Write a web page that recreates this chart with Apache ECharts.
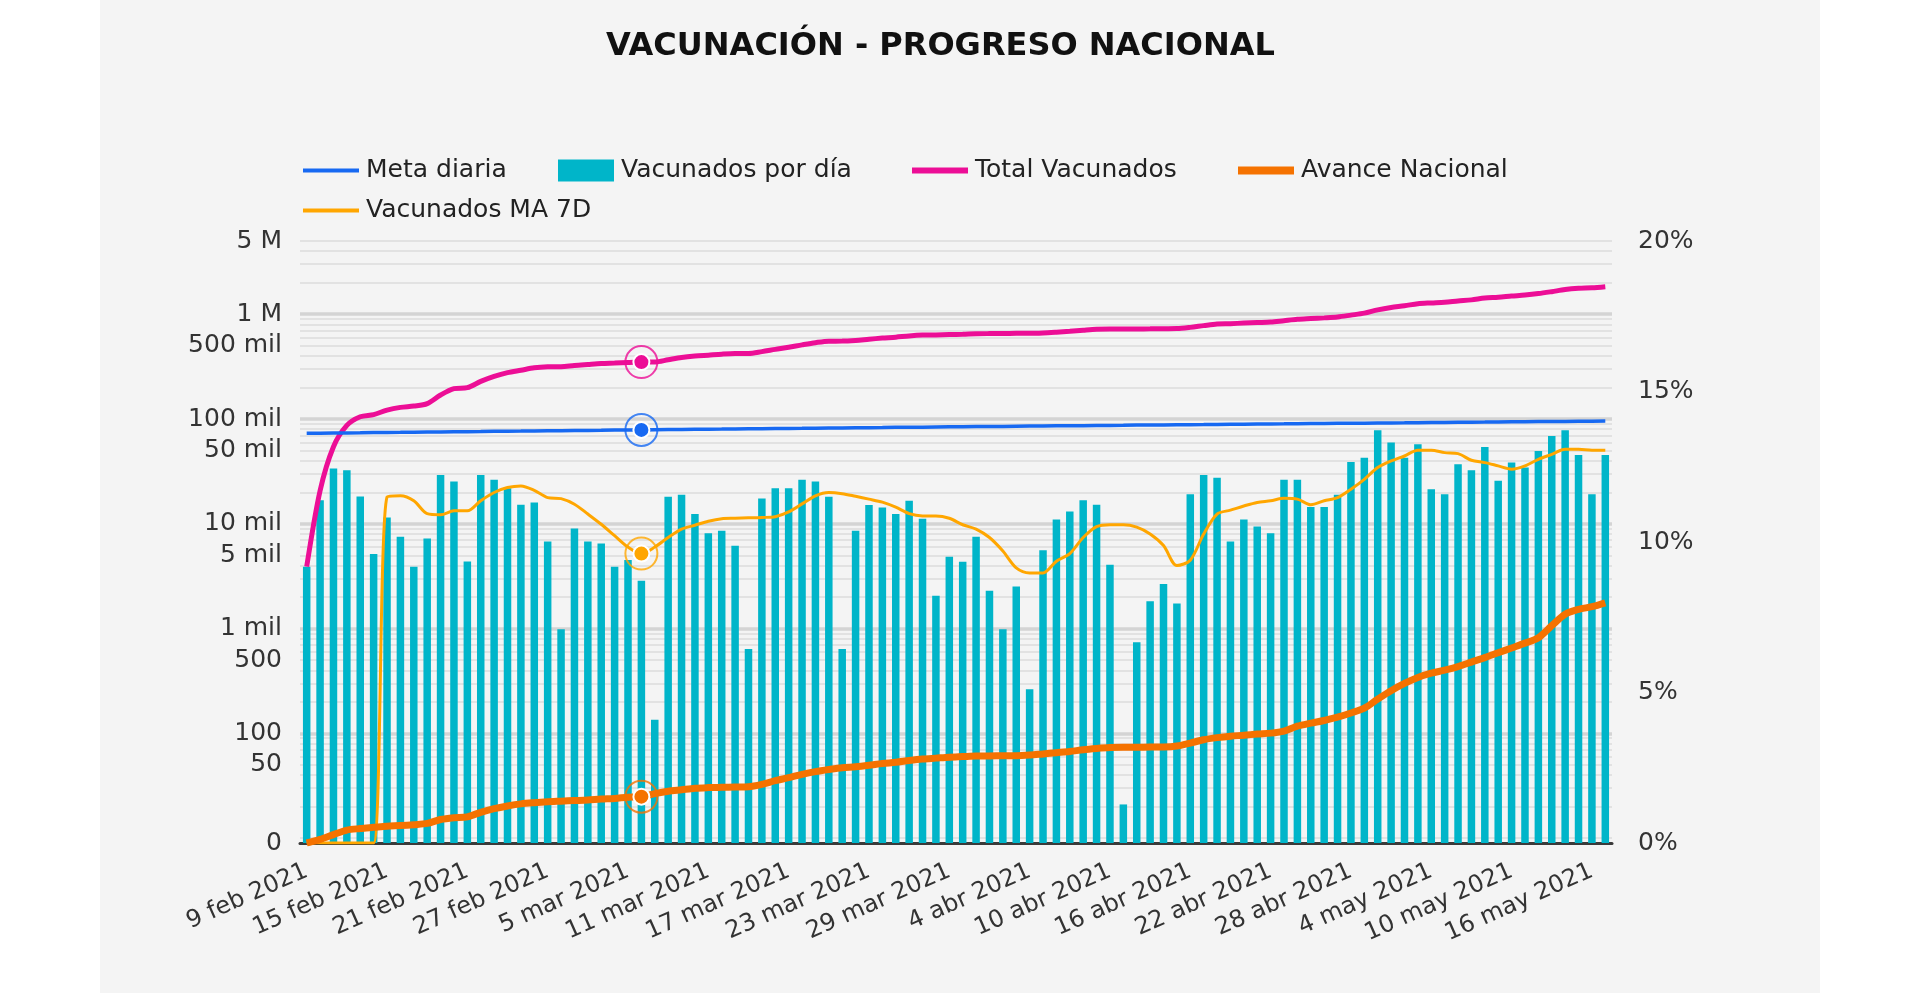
<!DOCTYPE html>
<html lang="es">
<head>
<meta charset="UTF-8">
<script src="https://cdn.jsdelivr.net/npm/echarts@6.0.0/dist/echarts.min.js"></script>
<title>Vacunación - progreso nacional</title>
<style>
  html, body { margin: 0; padding: 0; background: #ffffff; }
  #chart { position: absolute; left: 100px; top: 0; width: 1720px; height: 993px; background: #f4f4f4; }
</style>
</head>
<body>
<div id="chart"></div>
<script type="text/javascript">
// datos (9 feb 2021 -> 17 may 2021)
var vacunadosDia = [
  3890, 16800, 33700, 32500, 18200, 5140, 11500, 7510, 3890, 7250,
  29300, 25300, 4370, 29300, 26400, 21900, 15200, 16000, 6790, 985,
  9030, 6790, 6500, 3890, 4510, 2860, 135, 18100, 18900, 12400,
  8150, 8570, 6170, 640, 17400, 21900, 21900, 26400, 25300, 18100,
  640, 8570, 15100, 14300, 12400, 16600, 11200, 2060, 4850, 4350,
  7510, 2300, 985, 2530, 264, 5610, 11000, 13100, 16800, 15200,
  4070, 21, 741, 1820, 2660, 1740, 19200, 29300, 27600, 6790,
  11000, 9440, 8150, 26400, 26400, 14500, 14500, 18900, 38900, 42800,
  78000, 59600, 42800, 57400, 21400, 19200, 37000, 32400, 54100, 25700,
  38400, 34400, 49600, 68900, 78000, 45400, 19200, 45400
];
var totalVacunados = [
  3900, 20700, 54400, 86900, 105100, 110200, 121700, 129200, 133100, 140400,
  169700, 195000, 199400, 228700, 255100, 277000, 292200, 308200, 314900, 315900,
  325000, 331700, 338200, 342100, 346600, 349500, 349600, 367700, 386600, 399000,
  407200, 415800, 421900, 422600, 440000, 461900, 483800, 510200, 535500, 553600,
  554200, 562800, 577900, 592200, 604600, 621200, 632400, 634400, 639300, 643600,
  651200, 653500, 654400, 657000, 657200, 662800, 673800, 686900, 703700, 718900,
  723000, 723000, 723800, 725600, 728300, 730000, 749200, 778500, 806100, 812900,
  823900, 833300, 841500, 867900, 894300, 908800, 923300, 942200, 981100, 1023900,
  1101900, 1161500, 1204300, 1261700, 1283100, 1302300, 1339300, 1371700, 1425800, 1451500,
  1489900, 1524300, 1573900, 1642800, 1720800, 1766200, 1785400, 1830800
];
var vacunadosMA7 = [
  0, 0, 0, 0, 0, 0, 18100, 18500, 16600, 12500,
  12200, 13300, 13300, 16600, 19900, 22200, 23000, 20900, 17800, 17400,
  15400, 12400, 9900, 7700, 6000, 5200, 6000, 7400, 8900, 9700,
  10600, 11200, 11300, 11400, 11500, 11700, 13000, 15500, 18500, 19900,
  19400, 18300, 17200, 16100, 14400, 12500, 11900, 11900, 11300, 9800,
  8900, 7400, 5500, 3800, 3400, 3400, 4400, 5200, 7400, 9400,
  9800, 9800, 9300, 8000, 6200, 4000, 4500, 8000, 12400, 13500,
  14800, 16000, 16600, 17500, 17200, 15200, 16600, 17800, 21400, 26600,
  34400, 39800, 44400, 50400, 50400, 47800, 46800, 40400, 38400, 35700,
  33200, 35700, 41300, 46000, 51400, 51400, 50400, 50400
];
var metaDiaria = [
  73000, 73200, 73500, 73700, 73900, 74200, 74400, 74600, 74900, 75100,
  75300, 75600, 75800, 76000, 76300, 76500, 76700, 77000, 77200, 77400,
  77700, 77900, 78100, 78400, 78600, 78800, 79100, 79300, 79500, 79800,
  80000, 80200, 80500, 80700, 80900, 81200, 81400, 81600, 81900, 82100,
  82300, 82600, 82800, 83000, 83300, 83500, 83700, 84000, 84200, 84400,
  84700, 84900, 85100, 85400, 85600, 85800, 86100, 86300, 86500, 86800,
  87000, 87200, 87500, 87700, 87900, 88200, 88400, 88600, 88900, 89100,
  89300, 89600, 89800, 90000, 90300, 90500, 90700, 91000, 91200, 91400,
  91700, 91900, 92100, 92400, 92600, 92800, 93100, 93300, 93500, 93800,
  94000, 94200, 94500, 94700, 94900, 95200, 95400, 95600
];
// % de avance nacional (eje derecho)
var avanceNacional = [
  0.00, 0.12, 0.28, 0.43, 0.48, 0.52, 0.56, 0.58, 0.61, 0.65,
  0.78, 0.84, 0.87, 1.02, 1.14, 1.23, 1.30, 1.34, 1.37, 1.39,
  1.41, 1.43, 1.46, 1.48, 1.52, 1.54, 1.64, 1.72, 1.77, 1.82,
  1.84, 1.85, 1.86, 1.87, 1.95, 2.07, 2.17, 2.28, 2.37, 2.44,
  2.50, 2.53, 2.58, 2.64, 2.68, 2.74, 2.79, 2.82, 2.85, 2.87,
  2.89, 2.89, 2.90, 2.90, 2.92, 2.96, 3.00, 3.04, 3.10, 3.14,
  3.17, 3.18, 3.18, 3.19, 3.19, 3.22, 3.32, 3.43, 3.50, 3.55,
  3.58, 3.62, 3.65, 3.72, 3.88, 3.98, 4.07, 4.18, 4.32, 4.48,
  4.78, 5.06, 5.30, 5.50, 5.64, 5.74, 5.86, 6.01, 6.16, 6.32,
  6.48, 6.64, 6.82, 7.22, 7.60, 7.76, 7.85, 7.98
];

// etiquetas del eje izquierdo (log) y lineas de la grilla
var etiquetasIzq = [9, 50, 100, 500, 1000, 5000, 10000, 50000, 100000, 500000, 1000000, 5000000];
var decadas = [100, 1000, 10000, 100000, 1000000];
var grillaIzq = [];
[10, 100, 1000, 10000, 100000, 1000000].forEach(function (dec) {
  for (var k = 1; k < 10; k++) {
    if (dec * k <= 5000000) grillaIzq.push(dec * k);
  }
});

var meses = ['feb', 'mar', 'abr', 'may'];
var diasMes = [28, 31, 30, 31];
var dias = [];
var mi = 0, d = 9;
for (var k = 0; k < vacunadosDia.length; k++) {
  dias.push(d + ' ' + meses[mi] + ' 2021');
  d++;
  if (d > diasMes[mi]) { d = 1; mi++; }
}

var PISO = 9;      // el "0" del eje log
var MARCA = 25;    // punto resaltado
var fuente = 'DejaVu Sans';
var cMeta = '#1769f2', cBarra = '#00b5c9', cTotal = '#ec0e96', cAvance = '#f57200', cMA = '#ffa600';

function conMarca(arr, color, piso) {
  return arr.map(function (v, i) {
    var val = (piso && v <= 0) ? PISO : v;
    if (i !== MARCA) return val;
    return {
      value: val,
      symbol: 'circle',
      symbolSize: 16,
      itemStyle: { color: color, borderColor: '#ffffff', borderWidth: 2 }
    };
  });
}

function anillo(arr, color) {
  return {
    symbol: 'circle',
    symbolSize: 32,
    silent: true,
    label: { show: false },
    itemStyle: { color: 'rgba(0,0,0,0)', borderColor: color, borderWidth: 2, opacity: 0.8 },
    data: [{ coord: [dias[MARCA], arr[MARCA] > 0 ? arr[MARCA] : PISO] }]
  };
}

// una leyenda por serie; el texto queda centrado en top + 11
function leyenda(nombre, color, left, centro, alto) {
  return {
    data: [{ name: nombre, icon: 'rect', itemStyle: { color: color } }],
    left: left,
    top: centro - 11,
    padding: 0,
    itemWidth: 56,
    itemHeight: alto,
    textStyle: { fontFamily: fuente, fontSize: 25, color: '#222222', padding: [0, 0, 0, 2] }
  };
}

var chart = echarts.init(document.getElementById('chart'));

var option = {
  backgroundColor: '#f4f4f4',
  animation: false,
  title: {
    text: 'VACUNACIÓN - PROGRESO NACIONAL',
    left: 506,
    top: 31,
    padding: 0,
    textStyle: { fontFamily: fuente, fontWeight: 'bold', fontSize: 32, color: '#111111' }
  },
  legend: [
    leyenda('Meta diaria', cMeta, 203, 169, 4),
    leyenda('Vacunados por día', cBarra, 458, 169, 22),
    leyenda('Total Vacunados', cTotal, 812, 169, 6),
    leyenda('Avance Nacional', cAvance, 1138, 169, 8),
    leyenda('Vacunados MA 7D', cMA, 203, 209, 4)
  ],
  grid: { left: 200, right: 208, top: 241, bottom: 150 },
  xAxis: {
    type: 'category',
    data: dias,
    boundaryGap: true,
    axisLine: { lineStyle: { color: '#3a3a3a', width: 3 } },
    axisTick: { show: false },
    axisLabel: {
      interval: 5,
      rotate: 24,
      margin: 27,
      fontFamily: fuente,
      fontSize: 24,
      color: '#333333'
    }
  },
  yAxis: [
    {
      type: 'log',
      logBase: 10,
      min: PISO,
      max: 5000000,
      axisLine: { show: false },
      axisTick: { show: false, customValues: grillaIzq },
      axisLabel: {
        customValues: etiquetasIzq,
        margin: 18,
        fontFamily: fuente,
        fontSize: 25,
        color: '#333333',
        formatter: function (v) {
          if (v <= PISO + 0.5) return '0';
          if (v >= 1000000) return Math.round(v / 1000000) + ' M';
          if (v >= 1000) return Math.round(v / 1000) + ' mil';
          return String(Math.round(v));
        }
      },
      splitLine: { show: true, lineStyle: { color: '#dcdcdc', width: 1.5 } }
    },
    {
      type: 'value',
      position: 'right',
      min: 0,
      max: 20,
      interval: 5,
      axisLine: { show: false },
      axisTick: { show: false },
      splitLine: { show: false },
      axisLabel: {
        margin: 26,
        fontFamily: fuente,
        fontSize: 25,
        color: '#333333',
        formatter: '{value}%'
      }
    }
  ],
  series: [
    {
      name: 'Vacunados por día',
      type: 'bar',
      barWidth: 7.5,
      itemStyle: { color: cBarra },
      data: vacunadosDia,
      markLine: {
        silent: true,
        z: 1,
        symbol: 'none',
        label: { show: false },
        lineStyle: { color: '#d4d4d4', width: 3.5, type: 'solid' },
        data: decadas.map(function (v) { return { yAxis: v }; })
      }
    },
    {
      name: 'Vacunados MA 7D',
      type: 'line',
      smooth: 0.3,
      symbol: 'none',
      lineStyle: { color: cMA, width: 3 },
      itemStyle: { color: cMA },
      data: conMarca(vacunadosMA7, cMA, true),
      markPoint: anillo(vacunadosMA7, cMA)
    },
    {
      name: 'Total Vacunados',
      type: 'line',
      smooth: 0.3,
      symbol: 'none',
      lineStyle: { color: cTotal, width: 5 },
      itemStyle: { color: cTotal },
      data: conMarca(totalVacunados, cTotal),
      markPoint: anillo(totalVacunados, cTotal)
    },
    {
      name: 'Meta diaria',
      type: 'line',
      symbol: 'none',
      lineStyle: { color: cMeta, width: 3.5 },
      itemStyle: { color: cMeta },
      data: conMarca(metaDiaria, cMeta),
      markPoint: anillo(metaDiaria, cMeta)
    },
    {
      name: 'Avance Nacional',
      type: 'line',
      yAxisIndex: 1,
      smooth: 0.3,
      symbol: 'none',
      lineStyle: { color: cAvance, width: 7 },
      itemStyle: { color: cAvance },
      data: conMarca(avanceNacional, cAvance),
      markPoint: anillo(avanceNacional, cAvance)
    }
  ]
};

chart.setOption(option);
</script>
</body>
</html>
